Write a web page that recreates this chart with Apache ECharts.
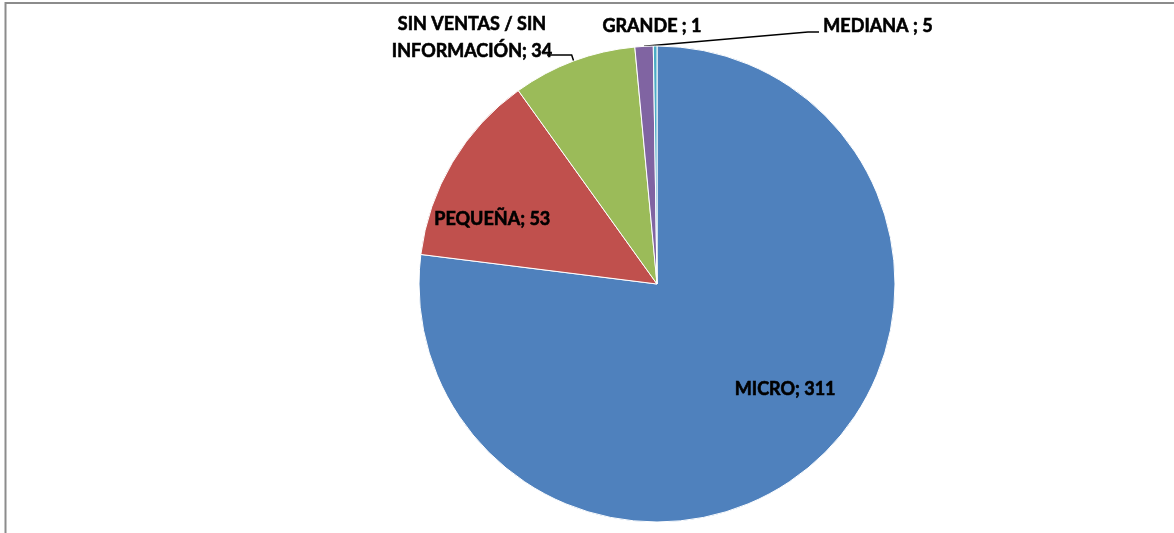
<!DOCTYPE html>
<html>
<head>
<meta charset="utf-8">
<script src="https://cdn.jsdelivr.net/npm/echarts@6/dist/echarts.min.js"></script>
<style>
  html, body { margin: 0; padding: 0; background: #fff; }
  #chart { width: 1174px; height: 533px; }
</style>
</head>
<body>
<div id="chart"></div>
<script>
// data, clockwise from 12 o'clock
const categories = ['MICRO', 'PEQUEÑA', 'SIN VENTAS / SIN\nINFORMACIÓN', 'MEDIANA ', 'GRANDE ']
const values = [311, 53, 34, 5, 1]
const colors = ['#4F81BD', '#C0504D', '#9BBB59', '#8064A2', '#4BACC6']
const insideLabels = [true, true, false, false, false]

const labelFont = {
  fontFamily: 'Lato',
  fontWeight: 'bold',
  fontSize: 18,
  color: '#000',
  // Lato bold is a bit light next to Calibri bold
  textBorderColor: '#000',
  textBorderWidth: 0.6,
}

// where the outside labels sit (text placement only)
const outsideLabelPos = {
  2: { x: 472, y: 38 },
  3: { x: 878, y: 26 },
  4: { x: 652, y: 26 },
}
// small nudges for the inside labels
const insideLabelShift = {
  0: { dx: 16, dy: -22 },
  1: { dx: -19, dy: 22 },
}

const pieData = categories.map((name, i) => ({
  name,
  value: values[i],
  itemStyle: { color: colors[i] },
  label: { show: !insideLabels[i] },
  labelLine: { show: !insideLabels[i] && i !== 4 },
}))

const insideData = categories.map((name, i) => ({
  name,
  value: values[i],
  label: { show: insideLabels[i] },
}))

// leader lines: start at the slice anchor given by echarts, elbow towards the text
const leaderLine = (idx, anchor) => {
  if (idx === 2) return [anchor, [anchor[0] - 2, 55], [547, 55]]
  if (idx === 3) return [anchor, [808, 32], [819, 32]]
  return undefined
}

const chart = echarts.init(document.getElementById('chart'))

chart.setOption({
  animation: false,
  graphic: [
    {
      type: 'rect',
      shape: { x: 5.5, y: 3, width: 1300, height: 700 },
      style: { fill: 'none', stroke: '#8c8c8c', lineWidth: 2 },
      silent: true,
    },
  ],
  series: [
    {
      type: 'pie',
      center: [657, 284],
      radius: 238,
      startAngle: 90,
      clockwise: true,
      avoidLabelOverlap: false,
      itemStyle: { borderColor: '#fff', borderWidth: 1 },
      label: {
        ...labelFont,
        position: 'outside',
        lineHeight: 27,
        align: 'center',
        formatter: (p) => p.name + '; ' + p.value,
      },
      labelLine: {
        length: 10,
        length2: 10,
        lineStyle: { color: '#000', width: 1.5 },
      },
      labelLayout: (params) => {
        const pos = outsideLabelPos[params.dataIndex]
        if (!pos) return {}
        const out = { x: pos.x, y: pos.y, align: 'center', verticalAlign: 'middle' }
        const pts = params.labelLinePoints
        if (pts && pts.length) {
          const line = leaderLine(params.dataIndex, pts[0])
          if (line) out.labelLinePoints = line
        }
        return out
      },
      emphasis: { disabled: true },
      data: pieData,
    },
    {
      // transparent ring only used to place the inside labels further out
      type: 'pie',
      center: [657, 284],
      radius: [95, 238],
      startAngle: 90,
      clockwise: true,
      silent: true,
      itemStyle: { color: 'transparent' },
      label: {
        ...labelFont,
        position: 'inside',
        formatter: (p) => p.name + '; ' + p.value,
      },
      labelLine: { show: false },
      labelLayout: (params) => insideLabelShift[params.dataIndex] || {},
      emphasis: { disabled: true },
      data: insideData,
    },
  ],
})
</script>
</body>
</html>
